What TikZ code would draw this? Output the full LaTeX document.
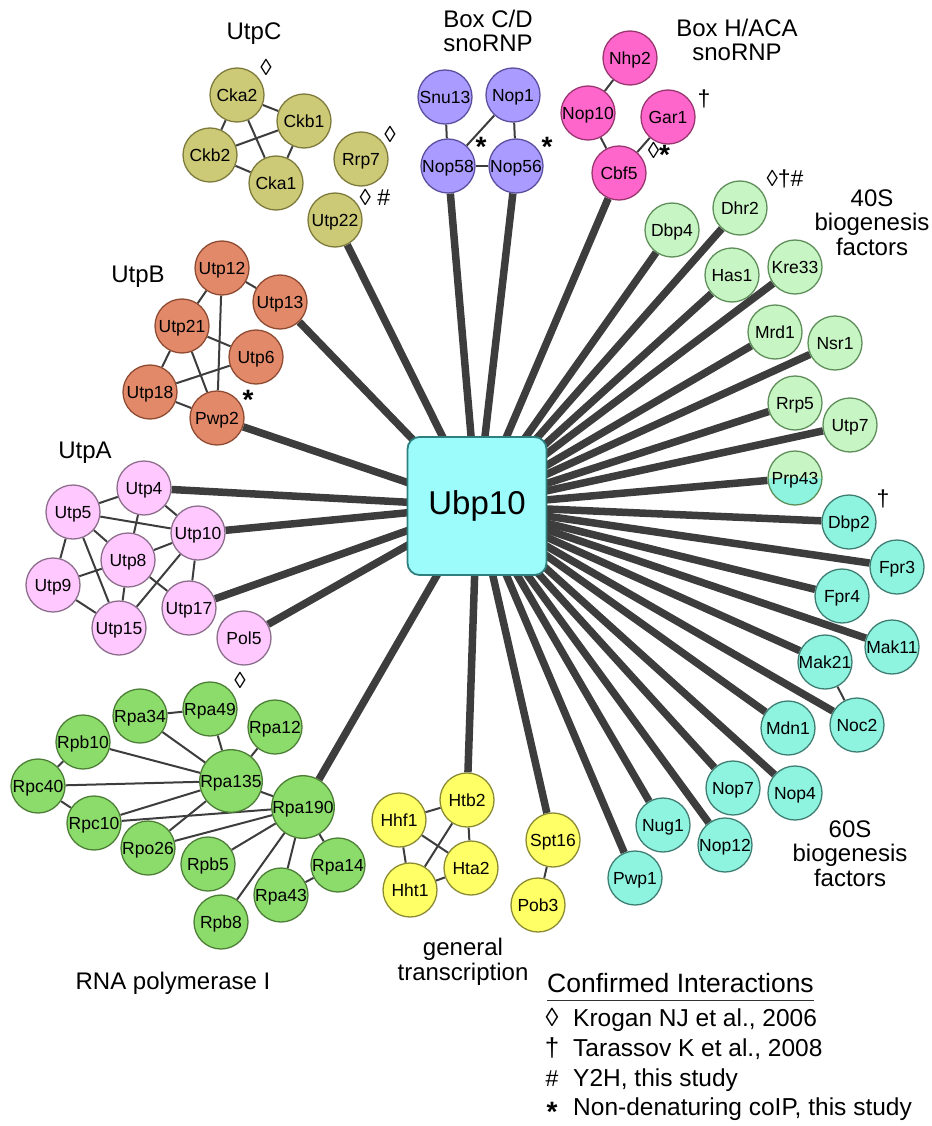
\documentclass[tikz,border=0pt]{standalone}
\usepackage{fontspec}
\setmainfont{Liberation Sans}
\definecolor{olF}{HTML}{CCC977}\definecolor{olD}{HTML}{7D7A3C}
\definecolor{saF}{HTML}{E2896A}\definecolor{saD}{HTML}{8E4B32}
\definecolor{pkF}{HTML}{FFC8FF}\definecolor{pkD}{HTML}{8C6E8C}
\definecolor{puF}{HTML}{A99BFF}\definecolor{puD}{HTML}{5C4E9E}
\definecolor{mgF}{HTML}{FF66CC}\definecolor{mgD}{HTML}{99366F}
\definecolor{lgF}{HTML}{C8F5C4}\definecolor{lgD}{HTML}{5E8E5A}
\definecolor{tlF}{HTML}{8EF3DF}\definecolor{tlD}{HTML}{3E7D72}
\definecolor{grF}{HTML}{8CDC6C}\definecolor{grD}{HTML}{4C7E36}
\definecolor{yeF}{HTML}{FFFF66}\definecolor{yeD}{HTML}{8A8A33}
\definecolor{ubF}{HTML}{9CFBFB}\definecolor{ubD}{HTML}{2F7F7F}
\definecolor{edgegray}{HTML}{3D3D3D}
\newcommand\nfont{\fontsize{17.5}{20}\selectfont}
\newcommand\lfont{\fontsize{24}{24.5}\selectfont}
\newcommand\stmark{\raisebox{-0.24em}{\fontsize{28}{28}\selectfont\bfseries *}}
\pgfdeclarelayer{edges}
\pgfsetlayers{edges,main}
\tikzset{
  prot/.style={circle, inner sep=0pt, minimum size=54pt, line width=1.3pt,
    fill=#1F, draw=#1D, font=\nfont, text height=12.5pt, text depth=0pt},
  hub/.style={line width=7.5pt, draw=edgegray},
  link/.style={line width=2pt, draw=edgegray},
  grouplabel/.style={font=\lfont, align=center, inner sep=0pt, anchor=north},
  annot/.style={font=\fontsize{23}{23}\selectfont, inner sep=0pt, text height=0.72em, text depth=0pt},
  legtext/.style={font=\fontsize{24.5}{26}\selectfont, inner sep=0pt, anchor=base west},
  legsym/.style={font=\fontsize{26}{26}\selectfont, inner sep=0pt, anchor=base},
}
\begin{document}
\begin{tikzpicture}[x=1pt,y=-1pt]
\useasboundingbox (0,0) rectangle (931,1126);
% hub
\node[draw=ubD, fill=ubF, rounded corners=12pt, minimum width=139pt, minimum height=138pt,
  line width=1.8pt, font=\fontsize{33}{36}\selectfont, inner sep=0pt] (Ubp10) at (477,506) {Ubp10};
% UtpC
\foreach \n/\x/\y in {Cka2/237/95, Ckb1/304/121, Ckb2/210/155, Cka1/276/183, Rrp7/361/159, Utp22/335/220}
  \node[prot=ol] (\n) at (\x,\y) {\n};
% UtpB
\foreach \n/\x/\y in {Utp12/222/268, Utp13/280/302, Utp21/182/326, Utp6/256/357, Utp18/150/392, Pwp2/217/418}
  \node[prot=sa] (\n) at (\x,\y) {\n};
% UtpA
\foreach \n/\x/\y in {Utp4/144/488, Utp5/73/512, Utp10/198/533, Utp8/128/560, Utp9/53/585, Utp17/189/608, Utp15/119/628, Pol5/244/638}
  \node[prot=pk] (\n) at (\x,\y) {\n};
% Box C/D
\foreach \n/\x/\y in {Snu13/445/97, Nop1/513/95, Nop58/448/166, Nop56/516/166}
  \node[prot=pu] (\n) at (\x,\y) {\n};
% Box H/ACA
\foreach \n/\x/\y in {Nhp2/630/58, Nop10/588/113, Gar1/668/117, Cbf5/619/173}
  \node[prot=mg] (\n) at (\x,\y) {\n};
% 40S
\foreach \n/\x/\y in {Dbp4/672/230, Dhr2/740/208, Has1/732/275, Kre33/795/267, Mrd1/775/332, Nsr1/835/343, Rrp5/795/403, Utp7/850/425}
  \node[prot=lg] (\n) at (\x,\y) {\n};
\node[prot=lg, path picture={\fill[tlF] (path picture bounding box.west) rectangle (path picture bounding box.south east);}] (Prp43) at (795,478) {Prp43};
% 60S
\foreach \n/\x/\y in {Dbp2/849/522, Fpr3/897/567, Fpr4/842/596, Mak11/892/647, Mak21/825/662, Noc2/857/725, Mdn1/788/728, Nop4/795/793, Nop7/733/788, Nop12/725/845, Nug1/663/825, Pwp1/635/878}
  \node[prot=tl] (\n) at (\x,\y) {\n};
% RNA pol I
\foreach \n/\x/\y in {Rpa34/140/716, Rpa49/210/709, Rpa12/275/727, Rpb10/83/742, Rpc40/38/786, Rpa135/231/781, Rpa190/303/807, Rpc10/94/823, Rpo26/148/848, Rpb5/208/864, Rpa14/338/865, Rpa43/281/895, Rpb8/221/922}
  \node[prot=gr] (\n) at (\x,\y) {\n};
% general transcription
\foreach \n/\x/\y in {Htb2/467/800, Hhf1/399/820, Hta2/471/868, Hht1/410/890, Spt16/553/840, Pob3/538/905}
  \node[prot=ye] (\n) at (\x,\y) {\n};
% edges
\begin{pgfonlayer}{edges}
\foreach \n in {Utp22, Utp13, Pwp2, Utp4, Utp10, Utp17, Pol5, Rpa190, Htb2, Spt16, Pwp1, Nug1, Nop12, Nop7, Nop4, Mdn1, Noc2, Mak21, Mak11, Fpr4, Fpr3, Dbp2, Prp43, Utp7, Rrp5, Nsr1, Mrd1, Kre33, Has1, Dhr2, Dbp4, Cbf5, Nop56, Nop58}
  \draw[hub] (Ubp10.center) -- (\n);
\foreach \a/\b in {Cka2/Ckb1, Cka2/Ckb2, Cka2/Cka1, Ckb2/Ckb1, Ckb2/Cka1, Ckb1/Cka1,
  Utp12/Utp13, Utp12/Utp21, Utp12/Pwp2, Utp21/Utp6, Utp21/Utp18, Utp21/Pwp2, Utp6/Utp18, Utp18/Pwp2,
  Utp5/Utp4, Utp4/Utp10, Utp4/Utp8, Utp5/Utp10, Utp5/Utp8, Utp5/Utp9, Utp5/Utp15, Utp8/Utp10, Utp8/Utp9, Utp8/Utp17, Utp8/Utp15, Utp10/Utp17, Utp10/Utp15, Utp9/Utp15,
  Snu13/Nop58, Nop1/Nop58, Nop1/Nop56, Nop58/Nop56,
  Nhp2/Nop10, Nop10/Cbf5, Gar1/Cbf5, Mak21/Noc2,
  Rpa34/Rpa49, Rpa34/Rpa135, Rpa49/Rpa135, Rpa12/Rpa135, Rpb10/Rpa135, Rpb10/Rpc40, Rpc40/Rpa135, Rpc40/Rpc10, Rpc10/Rpa135, Rpc10/Rpa190, Rpo26/Rpa135, Rpo26/Rpa190, Rpa135/Rpa190, Rpb5/Rpa190, Rpb8/Rpa190, Rpa43/Rpa190, Rpa14/Rpa190, Rpa43/Rpa14,
  Hhf1/Htb2, Hhf1/Hta2, Hhf1/Hht1, Htb2/Hta2, Htb2/Hht1, Hht1/Hta2, Spt16/Pob3}
  \draw[link] (\a) -- (\b);
\end{pgfonlayer}
% group labels
\node[grouplabel] (lUtpC) at (254,23) {UtpC};
\node[grouplabel] (lUtpB) at (138,266) {UtpB};
\node[grouplabel] (lUtpA) at (85,442) {UtpA};
\node[grouplabel] (lCD) at (488,9.5) {Box C/D\\snoRNP};
\node[grouplabel] (lHACA) at (737,18.5) {Box H/ACA\\snoRNP};
\node[grouplabel] (l40S) at (872,189.5) {40S\\biogenesis\\factors};
\node[grouplabel] (l60S) at (850,820.5) {60S\\biogenesis\\factors};
\node[grouplabel] (lGT) at (463,938) {general\\transcription};
\node[grouplabel] (lPol) at (173,972) {RNA polymerase I};
% annotation marks
\node[annot] (mCka2) at (266,72) {◊};
\node[annot] (mRrp7) at (390,139) {◊};
\node[annot] (mUtp22) at (375,202) {◊ \#};
\node[annot] (mNop58) at (481,147) {\stmark};
\node[annot] (mNop56) at (547,147) {\stmark};
\node[annot] (mGar1) at (704,103) {†};
\node[annot] (mCbf5) at (659,155) {◊\stmark};
\node[annot] (mDhr2) at (785,183) {◊†\#};
\node[annot] (mPwp2) at (248,400) {\stmark};
\node[annot] (mRpa49) at (240,685) {◊};
\node[annot] (mDbp2) at (883,503) {†};
% legend
\node[legtext, font=\fontsize{26.5}{28}\selectfont] (lgT) at (547,992) {Confirmed Interactions};
\draw[line width=1.3pt, draw=black!80] ([yshift=-8pt]lgT.south west) -- ([yshift=-8pt]lgT.south east);
\node[legsym] (s1) at (552,1026) {◊};
\node[legtext] (t1) at (573,1026) {Krogan NJ et al., 2006};
\node[legsym] (s2) at (552,1056) {†};
\node[legtext] (t2) at (573,1056) {Tarassov K et al., 2008};
\node[legsym, font=\fontsize{23}{23}\selectfont] (s3) at (552,1086) {\#};
\node[legtext] (t3) at (573,1086) {Y2H, this study};
\node[legsym] (s4) at (552,1115) {\stmark};
\node[legtext] (t4) at (573,1115) {Non-denaturing coIP, this study};
\end{tikzpicture}
\end{document}
